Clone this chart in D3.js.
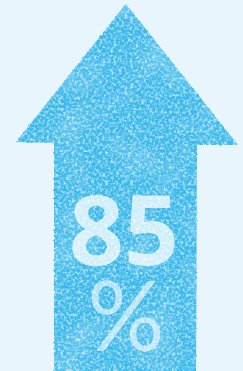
<!DOCTYPE html>
<html><head><meta charset="utf-8">
<script src="https://cdn.jsdelivr.net/npm/d3@7"></script>
<style>html,body{margin:0;padding:0;background:#e9f5fd;overflow:hidden}</style>
</head><body>
<script>
// data
const values = [85];
const unitLabels = ["%"];
const maxValue = [100];

const W = 243, H = 371;
const svg = d3.select("body").append("svg").attr("width", W).attr("height", H);
svg.append("rect").attr("width", W).attr("height", H).attr("fill", "#e9f5fd");

const defs = svg.append("defs");
// rough edge filter
const rough = defs.append("filter").attr("id", "rough").attr("x", "-5%").attr("y", "-5%").attr("width", "110%").attr("height", "110%");
rough.append("feTurbulence").attr("type", "fractalNoise").attr("baseFrequency", 0.5).attr("numOctaves", 2).attr("seed", 3).attr("result", "n");
rough.append("feDisplacementMap").attr("in", "SourceGraphic").attr("in2", "n").attr("scale", 2.5).attr("xChannelSelector", "R").attr("yChannelSelector", "G");

// speckle texture filter
const sp = defs.append("filter").attr("id", "speckle").attr("x", 0).attr("y", 0).attr("width", "100%").attr("height", "100%");
sp.append("feTurbulence").attr("type", "fractalNoise").attr("baseFrequency", 0.36).attr("numOctaves", 3).attr("seed", 7).attr("result", "t");
sp.append("feColorMatrix").attr("in", "t").attr("type", "matrix")
  .attr("values", "0 0 0 0 1  0 0 0 0 1  0 0 0 0 1  3.0 0 0 0 -1.25").attr("result", "m");
sp.append("feComposite").attr("in", "m").attr("in2", "SourceGraphic").attr("operator", "in");

// large cloudy variation
const cl = defs.append("filter").attr("id", "cloud").attr("x", 0).attr("y", 0).attr("width", "100%").attr("height", "100%");
cl.append("feTurbulence").attr("type", "fractalNoise").attr("baseFrequency", 0.022).attr("numOctaves", 2).attr("seed", 11).attr("result", "t");
cl.append("feColorMatrix").attr("in", "t").attr("type", "matrix")
  .attr("values", "0 0 0 0 1  0 0 0 0 1  0 0 0 0 1  1.8 0 0 0 -0.8").attr("result", "m");
cl.append("feComposite").attr("in", "m").attr("in2", "SourceGraphic").attr("operator", "in");

// arrow geometry via scale (value axis vertical)
const y = d3.scaleLinear().domain([0, maxValue[0]]).range([H + 2, 4]);
const tipY = y(maxValue[0]);
const x = d3.scaleLinear().domain([0, 1]).range([16, 238]);
const arrowPts = [
  [x(0.495), tipY],
  [x(1), 145],
  [197, 145],
  [196, H + 2],
  [54, H + 2],
  [54, 143],
  [x(0), 142]
];
const line = d3.line();
defs.append("clipPath").attr("id", "arrowClip").append("path").attr("d", line(arrowPts) + "Z");

const g = svg.append("g").attr("filter", "url(#rough)");
g.append("path").attr("d", line(arrowPts) + "Z").attr("fill", "#3bb9eb");
const tex = g.append("g").attr("clip-path", "url(#arrowClip)");
tex.append("rect").attr("width", W).attr("height", H).attr("fill", "#fff").attr("filter", "url(#cloud)").attr("opacity", 0.3);
tex.append("rect").attr("width", W).attr("height", H).attr("fill", "#fff").attr("filter", "url(#speckle)").attr("opacity", 0.6);

// value text (single text element, two lines)
const t = svg.append("text")
  .attr("text-anchor", "middle")
  .attr("fill", "#ffffff");
t.append("tspan").data(values)
  .attr("x", 124).attr("y", 265)
  .attr("font-family", "'Noto Sans', sans-serif")
  .attr("font-weight", 700)
  .attr("font-size", 96)
  .attr("fill-opacity", 0.74)
  .text(d => d);
t.append("tspan").data(unitLabels)
  .attr("x", 126).attr("y", 351)
  .attr("font-family", "Lato, 'Noto Sans', sans-serif")
  .attr("font-weight", 400)
  .attr("font-size", 96)
  .attr("fill-opacity", 0.6)
  .text(d => d);
</script>
</body></html>
